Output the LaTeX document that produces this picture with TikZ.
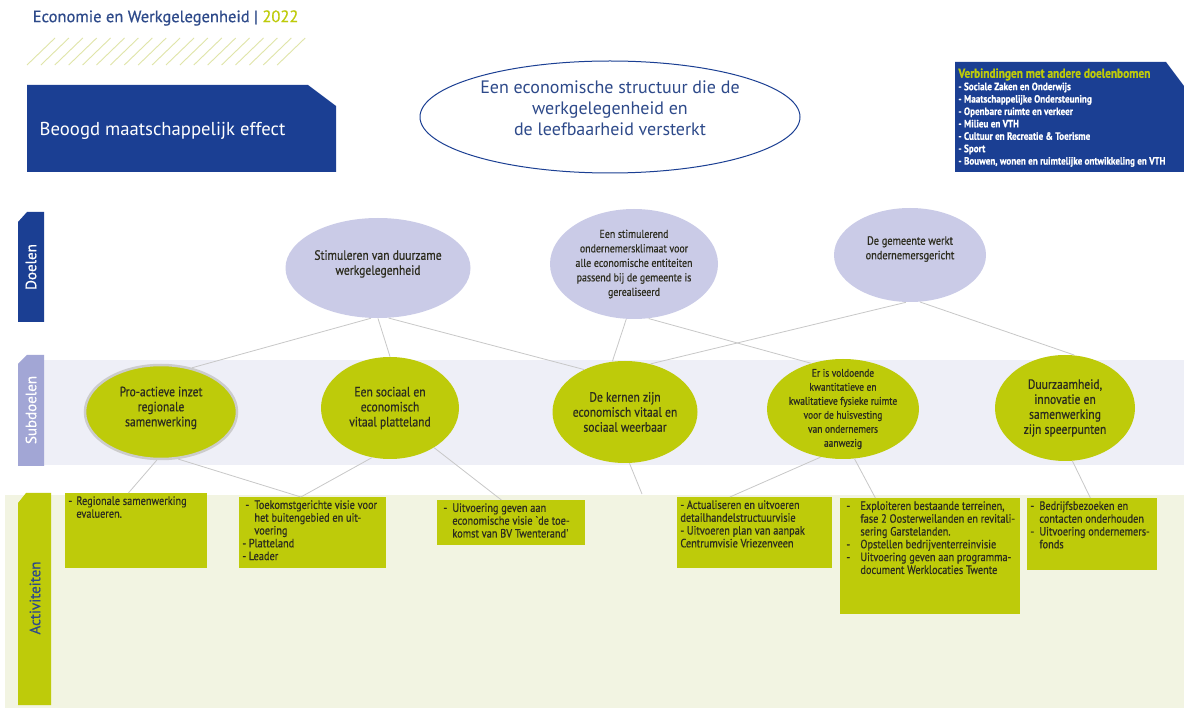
\documentclass[tikz,border=0pt]{standalone}
\usepackage{fontspec}
\setmainfont{PT Sans}
\newfontfamily\smal[FakeStretch=0.86,FakeBold=0.6]{PT Sans}
\newfontfamily\kop[FakeBold=0.6]{PT Sans}
\usetikzlibrary{shapes.geometric}
\definecolor{donkerblauw}{HTML}{1B3F93}
\definecolor{titelblauw}{HTML}{2E4A8A}
\definecolor{geelgroen}{HTML}{BECB0A}
\definecolor{lavendel}{HTML}{CACBE7}
\definecolor{subband}{HTML}{EEEFF7}
\definecolor{sublabel}{HTML}{A2A6D5}
\definecolor{aktband}{HTML}{F2F4E2}
\definecolor{lijngrijs}{HTML}{C8C8C8}
\definecolor{arcering}{HTML}{E0E5A8}
\definecolor{tekstdonker}{HTML}{2C2C1E}
\newcommand{\streep}{\makebox[9pt][l]{-}}
\newcommand{\inspr}{\hspace*{9pt}}
\newcommand{\aktblok}[3]{\parbox[t][#2][t]{#1}{\raggedright #3}}

\begin{document}
\begin{tikzpicture}[x=1pt,y=-1pt,line width=0.8pt]
    \tikzstyle{hoofddoel}=[ellipse,draw=donkerblauw,line width=1pt,fill=white,minimum width=380pt,minimum height=112pt,inner xsep=-80pt,inner ysep=-25pt,align=center,text=titelblauw,font=\fontsize{18}{21}\selectfont]
    \tikzstyle{doel}=[ellipse,fill=lavendel,inner xsep=-50pt,inner ysep=-25pt,align=center,text=tekstdonker,font=\smal\fontsize{13.5}{15}\selectfont]
    \tikzstyle{subdoel}=[doel,fill=geelgroen]
    \tikzstyle{activiteit}=[rectangle,fill=geelgroen,anchor=north west,inner sep=3pt,text=tekstdonker,font=\smal\fontsize{12}{12.8}\selectfont]
    \tikzstyle{laag}=[rotate=90,font=\kop\fontsize{15}{15}\selectfont]
    \tikzstyle{verbinding}=[draw=lijngrijs,line width=0.8pt]

    \useasboundingbox (0,0) rectangle (1184,708);
    \fill[white] (0,0) rectangle (1184,708);

    % Header: title and hatching
    \node[anchor=west,font=\kop\fontsize{16.5}{17}\selectfont] (titel) at (29,18)
        {\color{titelblauw}Economie en Werkgelegenheid | \color{geelgroen}2022};
    \foreach \i in {0,...,18}
        \draw[arcering,line width=0.9pt] (27+\i*13.9,65) -- ++(28,-27);

    % Draw the effect boxes
    \fill[donkerblauw] (27,85) -- (308,85) -- (336,106) -- (336,172) -- (27,172) -- cycle;
    \node[anchor=west,text=white,font=\fontsize{18.7}{19}\selectfont] (beoogd) at (36,131) {Beoogd maatschappelijk effect};
    \fill[donkerblauw] (955,62) -- (1166,62) -- (1184,86) -- (1184,172) -- (955,172) -- cycle;
    \node[anchor=north west,align=left,text=white,inner sep=0pt,font=\smal\bfseries\fontsize{10.6}{12.4}\selectfont] (verbindingen) at (958,68)
        {{\color{geelgroen}\fontsize{13.2}{12.4}\selectfont Verbindingen met andere doelenbomen}\\
         - Sociale Zaken en Onderwijs\\
         - Maatschappelijke Ondersteuning\\
         - Openbare ruimte en verkeer\\
         - Milieu en VTH\\
         - Cultuur en Recreatie \& Toerisme\\
         - Sport\\
         - Bouwen, wonen en ruimtelijke ontwikkeling en VTH};
    \node[hoofddoel] (effect) at (610,117)
        {Een economische structuur die de\\werkgelegenheid en\\de leefbaarheid versterkt\\[-4pt]};

    % Draw the bands and their labels
    \fill[subband] (44,360) rectangle (1184,465);
    \fill[aktband] (5,495) rectangle (1184,708);
    \fill[donkerblauw] (18,222) -- (27,212) -- (44,212) -- (44,322) -- (18,322) -- cycle;
    \node[laag,text=white] (doelen) at (31,267) {Doelen};
    \fill[sublabel] (18,364) -- (27,355) -- (44,355) -- (44,466) -- (18,466) -- cycle;
    \node[laag,text=white] (subdoelen) at (31,410) {Subdoelen};
    \fill[geelgroen] (18,503) -- (26,493) -- (51,493) -- (51,705) -- (18,705) -- cycle;
    \node[laag,text=titelblauw] (activiteiten) at (35,598) {Activiteiten};

    % Draw the goal nodes
    \node[doel,minimum width=185pt,minimum height=100pt] (d1) at (378,268)
        {Stimuleren van duurzame\\werkgelegenheid\\[-4pt]};
    \node[doel,minimum width=168pt,minimum height=110pt,font=\smal\fontsize{11.5}{14.5}\selectfont] (d2) at (634,264)
        {Een stimulerend\\ondernemersklimaat voor\\alle economische entiteiten\\passend bij de gemeente is\\gerealiseerd};
    \node[doel,minimum width=152pt,minimum height=94pt,font=\smal\fontsize{12}{14.5}\selectfont] (d3) at (910,255)
        {De gemeente werkt\\ondernemersgericht\\[0pt]};

    % Draw the subgoal nodes
    \node[subdoel,minimum width=152pt,minimum height=94pt,draw=gray!40,line width=2.5pt] (s1) at (161,412)
        {Pro-actieve inzet\\regionale\\samenwerking\\[-4pt]};
    \node[subdoel,minimum width=138pt,minimum height=102pt] (s2) at (390,408)
        {Een sociaal en\\economisch\\vitaal platteland};
    \node[subdoel,minimum width=145pt,minimum height=102pt] (s3) at (625,412)
        {De kernen zijn\\economisch vitaal en\\sociaal weerbaar};
    \node[subdoel,minimum width=152pt,minimum height=100pt,font=\smal\fontsize{11}{14}\selectfont] (s4) at (843,409)
        {Er is voldoende\\kwantitatieve en\\kwalitatieve fysieke ruimte\\voor de huisvesting\\van ondernemers\\aanwezig};
    \node[subdoel,minimum width=140pt,minimum height=106pt] (s5) at (1065,408)
        {Duurzaamheid,\\innovatie en\\samenwerking\\zijn speerpunten};

    % Draw the activity boxes
    \node[activiteit] (a1) at (65,493) {\aktblok{136pt}{69pt}{%
        \makebox[8pt][l]{-}Regionale samenwerking\\\hspace*{8pt}evalueren.}};
    \node[activiteit] (a2) at (239,497) {\aktblok{141pt}{65pt}{%
        \hspace*{3pt}\streep Toekomstgerichte visie voor\\\hspace*{3pt}\inspr het buitengebied en uit-\\\hspace*{3pt}\inspr voering\\
        - Platteland\\- Leader}};
    \node[activiteit] (a3) at (437,500) {\aktblok{142pt}{39pt}{%
        \hspace*{3pt}\streep Uitvoering geven aan\\\hspace*{3pt}\inspr economische visie `de toe-\\\hspace*{3pt}\inspr komst van BV Twenterand'}};
    \node[activiteit] (a4) at (677,497) {\aktblok{149pt}{65pt}{%
        - Actualiseren en uitvoeren\\detailhandelstructuurvisie\\- Uitvoeren plan van aanpak\\Centrumvisie Vriezenveen}};
    \node[activiteit] (a5) at (840,498) {\aktblok{174pt}{110pt}{%
        \hspace*{3pt}\makebox[14pt][l]{-}Exploiteren bestaande terreinen,\\
        \hspace*{17pt}fase 2 Oosterweilanden en revitali-\\
        \hspace*{17pt}sering Garstelanden.\\
        \hspace*{3pt}\makebox[14pt][l]{-}Opstellen bedrijventerreinvisie\\
        \hspace*{3pt}\makebox[14pt][l]{-}Uitvoering geven aan programma-\\
        \hspace*{17pt}document Werklocaties Twente}};
    \node[activiteit] (a6) at (1027,498) {\aktblok{124pt}{66pt}{%
        \streep Bedrijfsbezoeken en\\\inspr contacten onderhouden\\\streep Uitvoering ondernemers-\\\inspr fonds}};
    \coordinate (leeg) at (642,494);

    % Connect the goals with the subgoals
    \draw[verbinding] (d1.262) -- (s1.55);
    \draw[verbinding] (d1.south) -- (s2.north);
    \draw[verbinding] (d1.282) -- (s3.134);
    \draw[verbinding] (d2.262) -- (s3.104);
    \draw[verbinding] (d2.285) -- (s4.125);
    \draw[verbinding] (d3.265) -- (s3.62);
    \draw[verbinding] (d3.282) -- (s5.80);

    % Connect the subgoals with the activities
    \draw[verbinding] (s1.265) -- ([xshift=-8pt]a1.north);
    \draw[verbinding] (s1.290) -- ([xshift=-12pt]a2.north);
    \draw[verbinding] (s2.250) -- ([xshift=-12pt]a2.north);
    \draw[verbinding] (s2.318) -- ([xshift=-10pt]a3.north);
    \draw[verbinding] (s3.275) -- (leeg);
    \draw[verbinding] (s4.245) -- ([xshift=-25pt]a4.north);
    \draw[verbinding] (s4.283) -- ([xshift=-55pt]a5.north);
    \draw[verbinding] (s5.278) -- ([xshift=-2pt]a6.north);
\end{tikzpicture}
\end{document}
